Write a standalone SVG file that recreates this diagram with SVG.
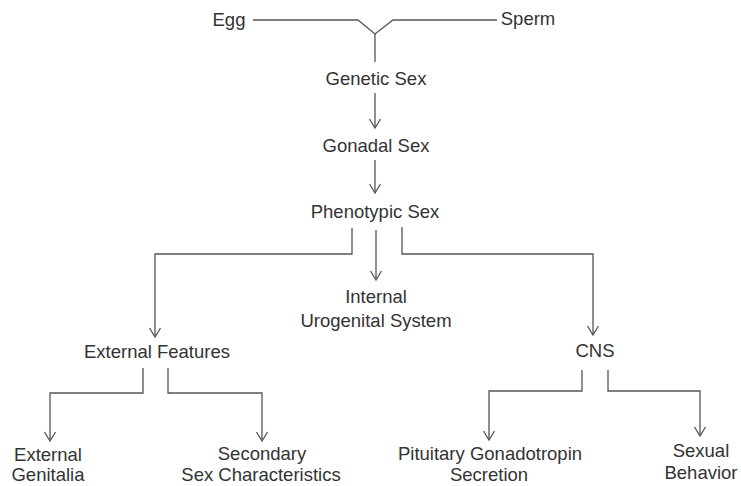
<svg xmlns="http://www.w3.org/2000/svg" width="741" height="486" viewBox="0 0 741 486">
<style>
text{font-family:"Liberation Sans",Arial,sans-serif;font-size:18.5px;fill:#333;text-anchor:middle}
.c path,.c polyline{fill:none;stroke:#555;stroke-width:1.3}
</style>
<defs>
<marker id="ah" viewBox="-11 -7 13 14" refX="0" refY="0" markerWidth="13" markerHeight="14" markerUnits="userSpaceOnUse" orient="auto" overflow="visible">
<path d="M-9,-5.5 L0,0 L-9,5.5" fill="none" stroke="#555" stroke-width="1.3"/>
</marker>
</defs>
<rect width="741" height="486" fill="#fff"/>
<g class="c" id="connectors">
<polyline points="253,20 358,20 375,34 393,20 497,20"/>
<path d="M375,34 V62"/>
<path d="M375,93 V128" marker-end="url(#ah)"/>
<path d="M375,160 V193" marker-end="url(#ah)"/>
<path d="M352,228 V254 H155 V337" marker-end="url(#ah)"/>
<path d="M376,230 V280" marker-end="url(#ah)"/>
<path d="M402,227 V254 H593 V335" marker-end="url(#ah)"/>
<path d="M143,368 V393 H50 V441" marker-end="url(#ah)"/>
<path d="M168,368 V393 H262 V441" marker-end="url(#ah)"/>
<path d="M582,370 V391 H489 V440" marker-end="url(#ah)"/>
<path d="M608,370 V391 H700 V436" marker-end="url(#ah)"/>
</g>
<g id="egg"><text x="229" y="26">Egg</text></g>
<g id="sperm"><text x="528" y="25">Sperm</text></g>
<g id="genetic-sex"><text x="376" y="85">Genetic Sex</text></g>
<g id="gonadal-sex"><text x="376" y="152">Gonadal Sex</text></g>
<g id="phenotypic-sex"><text x="375" y="218">Phenotypic Sex</text></g>
<g id="internal"><text x="376" y="303">Internal</text><text x="376" y="327">Urogenital System</text></g>
<g id="external-features"><text x="157" y="358">External Features</text></g>
<g id="cns"><text x="595" y="357">CNS</text></g>
<g id="external-genitalia"><text x="48" y="461">External</text><text x="48" y="481">Genitalia</text></g>
<g id="secondary"><text x="262" y="460">Secondary</text><text x="261" y="481">Sex Characteristics</text></g>
<g id="pituitary"><text x="490" y="460">Pituitary Gonadotropin</text><text x="489" y="481">Secretion</text></g>
<g id="sexual-behavior"><text x="701" y="457">Sexual</text><text x="701" y="479">Behavior</text></g>
</svg>
